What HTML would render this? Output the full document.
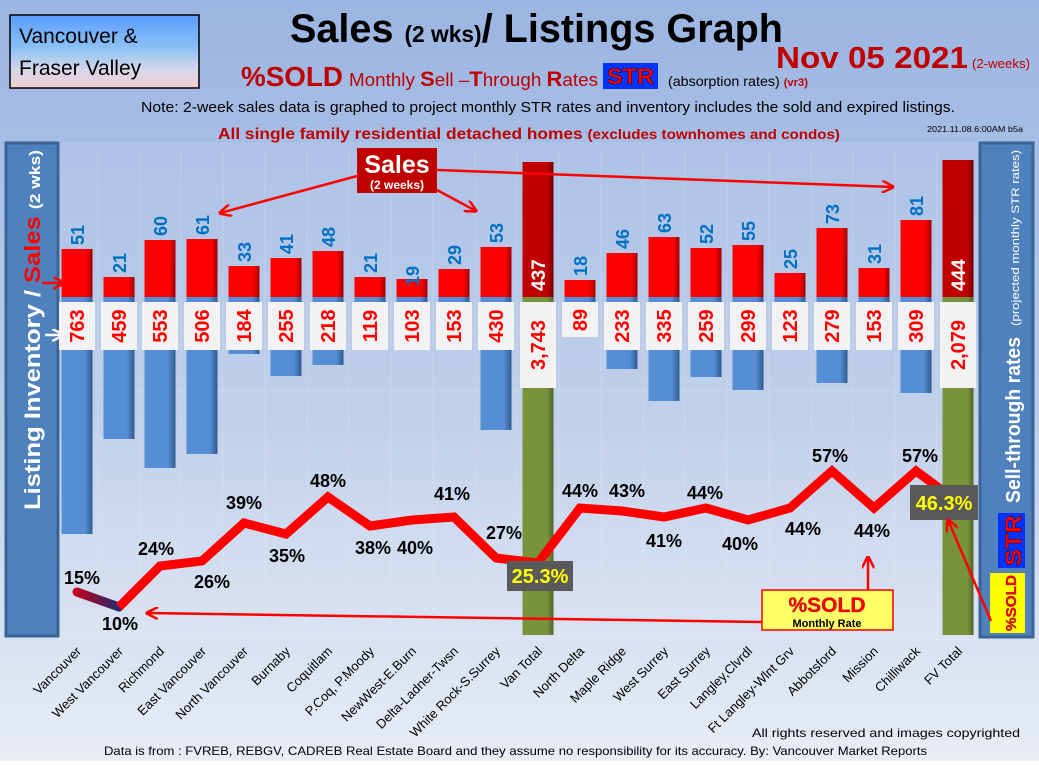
<!DOCTYPE html>
<html><head><meta charset="utf-8"><style>
html,body{margin:0;padding:0;}
body{width:1039px;height:761px;overflow:hidden;font-family:"Liberation Sans",sans-serif;}
</style></head><body>
<svg width="1039" height="761" xmlns="http://www.w3.org/2000/svg" font-family="Liberation Sans, sans-serif">
<defs>
<linearGradient id="bg" x1="0" y1="0" x2="0" y2="1"><stop offset="0" stop-color="#9bb5e2"/><stop offset="0.55" stop-color="#bccde9"/><stop offset="1" stop-color="#e8edf6"/></linearGradient>
<linearGradient id="tl" x1="0" y1="0" x2="0" y2="1"><stop offset="0" stop-color="#5a9cff"/><stop offset="0.45" stop-color="#8cc0f5"/><stop offset="0.75" stop-color="#d4d8ea"/><stop offset="1" stop-color="#f4cdd3"/></linearGradient>
<linearGradient id="rb" x1="0" y1="0" x2="1" y2="0"><stop offset="0" stop-color="#ff0000"/><stop offset="0.8" stop-color="#ff0000"/><stop offset="1" stop-color="#a00000"/></linearGradient>
<linearGradient id="db" x1="0" y1="0" x2="1" y2="0"><stop offset="0" stop-color="#c00000"/><stop offset="0.8" stop-color="#c00000"/><stop offset="1" stop-color="#700000"/></linearGradient>
<linearGradient id="bb" x1="0" y1="0" x2="1" y2="0"><stop offset="0" stop-color="#558ed5"/><stop offset="0.75" stop-color="#558ed5"/><stop offset="1" stop-color="#2f5a90"/></linearGradient>
<linearGradient id="gb" x1="0" y1="0" x2="1" y2="0"><stop offset="0" stop-color="#77933c"/><stop offset="0.8" stop-color="#77933c"/><stop offset="1" stop-color="#4f6228"/></linearGradient>
<linearGradient id="ln" x1="77" y1="0" x2="160" y2="0" gradientUnits="userSpaceOnUse"><stop offset="0" stop-color="#c00020"/><stop offset="0.5" stop-color="#1f2a6e"/><stop offset="1" stop-color="#ff0000"/></linearGradient>
<marker id="ar" viewBox="0 0 10 10" refX="9" refY="5" markerWidth="5" markerHeight="5" orient="auto"><path d="M0,0 L10,5 L0,10" fill="none" stroke="#ff0000" stroke-width="2"/></marker>
<marker id="aw" viewBox="0 0 10 10" refX="9" refY="5" markerWidth="5" markerHeight="5" orient="auto"><path d="M0,0 L10,5 L0,10" fill="none" stroke="#ffffff" stroke-width="2"/></marker>
</defs>
<rect width="1039" height="761" fill="url(#bg)"/>
<rect x="58" y="142" width="922" height="498" fill="#ffffff" opacity="0.08"/>
<g stroke="#ffffff" stroke-opacity="0.15" stroke-width="1">
<line x1="98" y1="150" x2="98" y2="640"/><line x1="140" y1="150" x2="140" y2="640"/><line x1="181" y1="150" x2="181" y2="640"/><line x1="223" y1="150" x2="223" y2="640"/><line x1="265" y1="150" x2="265" y2="640"/><line x1="307" y1="150" x2="307" y2="640"/><line x1="349" y1="150" x2="349" y2="640"/><line x1="391" y1="150" x2="391" y2="640"/><line x1="433" y1="150" x2="433" y2="640"/><line x1="475" y1="150" x2="475" y2="640"/><line x1="517" y1="150" x2="517" y2="640"/><line x1="559" y1="150" x2="559" y2="640"/><line x1="601" y1="150" x2="601" y2="640"/><line x1="643" y1="150" x2="643" y2="640"/><line x1="685" y1="150" x2="685" y2="640"/><line x1="727" y1="150" x2="727" y2="640"/><line x1="769" y1="150" x2="769" y2="640"/><line x1="811" y1="150" x2="811" y2="640"/><line x1="853" y1="150" x2="853" y2="640"/><line x1="895" y1="150" x2="895" y2="640"/><line x1="937" y1="150" x2="937" y2="640"/>
<line x1="58" y1="328" x2="978" y2="328"/><line x1="58" y1="390" x2="978" y2="390"/><line x1="58" y1="452" x2="978" y2="452"/><line x1="58" y1="515" x2="978" y2="515"/><line x1="58" y1="577" x2="978" y2="577"/><line x1="58" y1="640" x2="978" y2="640"/>
</g>

<!-- header -->
<rect x="10" y="15" width="189" height="73" fill="url(#tl)" stroke="#000" stroke-width="1.5"/>
<text x="19" y="43" font-size="21" fill="#000">Vancouver &amp;</text>
<text x="19" y="75" font-size="21" fill="#000">Fraser Valley</text>
<text x="290" y="42" font-size="40" font-weight="bold" fill="#000" textLength="493" lengthAdjust="spacingAndGlyphs">Sales <tspan font-size="23">(2 wks)</tspan>/ Listings Graph</text>
<text x="241" y="86" font-size="28" font-weight="bold" fill="#c00000" textLength="102" lengthAdjust="spacingAndGlyphs">%SOLD</text>
<text x="349" y="86" font-size="18" fill="#c00000" textLength="249" lengthAdjust="spacingAndGlyphs">Monthly <tspan font-weight="bold" font-size="21">S</tspan>ell –<tspan font-weight="bold" font-size="21">T</tspan>hrough <tspan font-weight="bold" font-size="21">R</tspan>ates</text>
<rect x="603" y="63" width="55" height="26" fill="#0033ff"/>
<text x="607" y="84" font-size="22" font-weight="bold" fill="#ff0000" stroke="#400000" stroke-width="0.6" textLength="47" lengthAdjust="spacingAndGlyphs">STR</text>
<text x="668" y="86" font-size="14" fill="#000" textLength="140" lengthAdjust="spacingAndGlyphs">(absorption rates) <tspan fill="#c00000" font-weight="bold" font-size="11">(vr3)</tspan></text>
<text x="776" y="68" font-size="31" font-weight="bold" fill="#c00000" textLength="192" lengthAdjust="spacingAndGlyphs">Nov  05  2021</text>
<text x="972" y="68" font-size="13" fill="#c00000" textLength="58" lengthAdjust="spacingAndGlyphs">(2-weeks)</text>
<text x="141" y="112" font-size="15" fill="#000" textLength="814" lengthAdjust="spacingAndGlyphs">Note: 2-week sales data is graphed to project monthly STR rates and inventory includes the sold and expired listings.</text>
<text x="218" y="139" font-size="16" font-weight="bold" fill="#c00000" textLength="622" lengthAdjust="spacingAndGlyphs">All single family residential detached homes <tspan font-size="14">(excludes townhomes and condos)</tspan></text>
<text x="927" y="132" font-size="8" fill="#000" textLength="96" lengthAdjust="spacingAndGlyphs">2021.11.08.6:00AM b5a</text>

<!-- side panels -->
<rect x="6" y="143" width="52" height="493" fill="#4f81bd" stroke="#3b6494" stroke-width="3"/>
<text transform="translate(40,510) rotate(-90)" font-size="22" font-weight="bold" fill="#ffffff" textLength="360" lengthAdjust="spacingAndGlyphs">Listing Inventory / <tspan fill="#ff0000">Sales</tspan> <tspan font-size="15">(2  wks)</tspan></text>
<line x1="42" y1="283" x2="64" y2="283" stroke="#ff0000" stroke-width="2.5" marker-end="url(#ar)"/>
<line x1="45" y1="335" x2="63" y2="335" stroke="#ffffff" stroke-width="2.5" marker-end="url(#aw)"/>
<rect x="980" y="143" width="53" height="494" fill="#4f81bd" stroke="#3b6494" stroke-width="3"/>
<text transform="translate(1020,503) rotate(-90)" font-size="20" font-weight="bold" fill="#ffffff" textLength="166" lengthAdjust="spacingAndGlyphs">Sell-through rates</text>
<text transform="translate(1019,326) rotate(-90)" font-size="11" fill="#ffffff" textLength="176" lengthAdjust="spacingAndGlyphs">(projected monthly STR rates)</text>
<rect x="998" y="513" width="27" height="55" fill="#0033ff"/>
<text transform="translate(1021,566) rotate(-90)" font-size="22" font-weight="bold" fill="#ff0000" stroke="#400000" stroke-width="0.5" textLength="51" lengthAdjust="spacingAndGlyphs">STR</text>
<rect x="990" y="573" width="35" height="60" fill="#ffff00"/>
<text transform="translate(1016,631) rotate(-90)" font-size="15" font-weight="bold" fill="#ff0000" stroke="#600000" stroke-width="0.3" textLength="56" lengthAdjust="spacingAndGlyphs">%SOLD</text>

<!-- blue/green bars -->
<g fill="url(#bb)">
<rect x="61.5" y="297" width="31" height="237"/><rect x="103.5" y="297" width="31" height="142"/><rect x="144.5" y="297" width="31" height="171"/><rect x="186.5" y="297" width="31" height="157"/><rect x="228.5" y="297" width="31" height="57"/><rect x="270.5" y="297" width="31" height="79"/><rect x="312.5" y="297" width="31" height="68"/><rect x="354.5" y="297" width="31" height="37"/><rect x="396.5" y="297" width="31" height="32"/><rect x="438.5" y="297" width="31" height="47"/><rect x="480.5" y="297" width="31" height="133"/>
<rect x="564.5" y="297" width="31" height="28"/><rect x="606.5" y="297" width="31" height="72"/><rect x="648.5" y="297" width="31" height="104"/><rect x="690.5" y="297" width="31" height="80"/><rect x="732.5" y="297" width="31" height="93"/><rect x="774.5" y="297" width="31" height="38"/><rect x="816.5" y="297" width="31" height="86"/><rect x="858.5" y="297" width="31" height="47"/><rect x="900.5" y="297" width="31" height="96"/>
</g>
<rect x="522.5" y="297" width="31" height="338" fill="url(#gb)"/>
<rect x="942.5" y="297" width="31" height="338" fill="url(#gb)"/>
<!-- red bars -->
<g fill="url(#rb)">
<rect x="61.5" y="249" width="31" height="48"/><rect x="103.5" y="277" width="31" height="20"/><rect x="144.5" y="240" width="31" height="57"/><rect x="186.5" y="239" width="31" height="58"/><rect x="228.5" y="266" width="31" height="31"/><rect x="270.5" y="258" width="31" height="39"/><rect x="312.5" y="251" width="31" height="46"/><rect x="354.5" y="277" width="31" height="20"/><rect x="396.5" y="279" width="31" height="18"/><rect x="438.5" y="269" width="31" height="28"/><rect x="480.5" y="247" width="31" height="50"/>
<rect x="564.5" y="280" width="31" height="17"/><rect x="606.5" y="253" width="31" height="44"/><rect x="648.5" y="237" width="31" height="60"/><rect x="690.5" y="248" width="31" height="49"/><rect x="732.5" y="245" width="31" height="52"/><rect x="774.5" y="273" width="31" height="24"/><rect x="816.5" y="228" width="31" height="69"/><rect x="858.5" y="268" width="31" height="29"/><rect x="900.5" y="220" width="31" height="77"/>
</g>
<rect x="522.5" y="162" width="31" height="135" fill="url(#db)"/>
<rect x="942.5" y="160" width="31" height="137" fill="url(#db)"/>
<g font-size="19" font-weight="bold" fill="#ffffff">
<text transform="translate(545,291) rotate(-90)">437</text>
<text transform="translate(965,291) rotate(-90)">444</text>
</g>
<!-- sales labels -->
<g font-size="18" font-weight="bold" fill="#0070c0">
<text transform="translate(84,245) rotate(-90)">51</text><text transform="translate(126,273) rotate(-90)">21</text><text transform="translate(167,236) rotate(-90)">60</text><text transform="translate(209,235) rotate(-90)">61</text><text transform="translate(251,262) rotate(-90)">33</text><text transform="translate(293,254) rotate(-90)">41</text><text transform="translate(335,247) rotate(-90)">48</text><text transform="translate(377,273) rotate(-90)">21</text><text transform="translate(419,286) rotate(-90)">19</text><text transform="translate(461,265) rotate(-90)">29</text><text transform="translate(503,243) rotate(-90)">53</text>
<text transform="translate(587,276) rotate(-90)">18</text><text transform="translate(629,249) rotate(-90)">46</text><text transform="translate(671,233) rotate(-90)">63</text><text transform="translate(713,244) rotate(-90)">52</text><text transform="translate(755,241) rotate(-90)">55</text><text transform="translate(797,269) rotate(-90)">25</text><text transform="translate(839,224) rotate(-90)">73</text><text transform="translate(881,264) rotate(-90)">31</text><text transform="translate(923,216) rotate(-90)">81</text>
</g>
<!-- inventory boxes -->
<g fill="#f2f2f2">
<rect x="59" y="302" width="36" height="48"/><rect x="101" y="302" width="36" height="48"/><rect x="142" y="302" width="36" height="48"/><rect x="184" y="302" width="36" height="48"/><rect x="226" y="302" width="36" height="48"/><rect x="268" y="302" width="36" height="48"/><rect x="310" y="302" width="36" height="48"/><rect x="352" y="302" width="36" height="48"/><rect x="394" y="302" width="36" height="48"/><rect x="436" y="302" width="36" height="48"/><rect x="478" y="302" width="36" height="48"/><rect x="520" y="302" width="36" height="86"/><rect x="562" y="302" width="36" height="35"/><rect x="604" y="302" width="36" height="48"/><rect x="646" y="302" width="36" height="48"/><rect x="688" y="302" width="36" height="48"/><rect x="730" y="302" width="36" height="48"/><rect x="772" y="302" width="36" height="48"/><rect x="814" y="302" width="36" height="48"/><rect x="856" y="302" width="36" height="48"/><rect x="898" y="302" width="36" height="48"/><rect x="940" y="302" width="36" height="86"/>
</g>
<g font-size="20" font-weight="bold" fill="#ff0000" text-anchor="middle">
<text transform="translate(84,326) rotate(-90)">763</text><text transform="translate(126,326) rotate(-90)">459</text><text transform="translate(167,326) rotate(-90)">553</text><text transform="translate(209,326) rotate(-90)">506</text><text transform="translate(251,326) rotate(-90)">184</text><text transform="translate(293,326) rotate(-90)">255</text><text transform="translate(335,326) rotate(-90)">218</text><text transform="translate(377,326) rotate(-90)">119</text><text transform="translate(419,326) rotate(-90)">103</text><text transform="translate(461,326) rotate(-90)">153</text><text transform="translate(503,326) rotate(-90)">430</text><text transform="translate(545,345) rotate(-90)">3,743</text><text transform="translate(587,320) rotate(-90)">89</text><text transform="translate(629,326) rotate(-90)">233</text><text transform="translate(671,326) rotate(-90)">335</text><text transform="translate(713,326) rotate(-90)">259</text><text transform="translate(755,326) rotate(-90)">299</text><text transform="translate(797,326) rotate(-90)">123</text><text transform="translate(839,326) rotate(-90)">279</text><text transform="translate(881,326) rotate(-90)">153</text><text transform="translate(923,326) rotate(-90)">309</text><text transform="translate(965,345) rotate(-90)">2,079</text>
</g>

<!-- sales callout -->
<rect x="357" y="148" width="80" height="45" fill="#c00000"/>
<text x="397" y="173" font-size="25" font-weight="bold" fill="#fff" text-anchor="middle">Sales</text>
<text x="397" y="189" font-size="12" font-weight="bold" fill="#fff" text-anchor="middle">(2 weeks)</text>
<line x1="357" y1="176" x2="220" y2="213" stroke="#ff0000" stroke-width="2.5" marker-end="url(#ar)"/>
<line x1="437" y1="190" x2="476" y2="211" stroke="#ff0000" stroke-width="2.5" marker-end="url(#ar)"/>
<line x1="437" y1="170" x2="893" y2="187" stroke="#ff0000" stroke-width="2.5" marker-end="url(#ar)"/>

<!-- line -->
<polyline points="77,592 119,607" fill="none" stroke="url(#ln)" stroke-width="9" stroke-linecap="round"/>
<polyline points="119,607 160,566 202,561 244,523 286,534 328,497 370,526 412,520 454,517 496,558 538,563 580,508 622,511 664,517 706,508 748,520 790,508 832,471 874,508 916,471 958,502" fill="none" stroke="#ff0000" stroke-width="9" stroke-linejoin="miter"/>
<g font-size="18" font-weight="bold" fill="#000" text-anchor="middle">
<text x="82" y="584">15%</text><text x="120" y="630">10%</text><text x="156" y="555">24%</text><text x="212" y="588">26%</text><text x="244" y="509">39%</text><text x="287" y="562">35%</text><text x="328" y="487">48%</text><text x="373" y="554">38%</text><text x="415" y="554">40%</text><text x="452" y="500">41%</text><text x="504" y="539">27%</text><text x="580" y="497">44%</text><text x="627" y="497">43%</text><text x="664" y="547">41%</text><text x="705" y="499">44%</text><text x="740" y="550">40%</text><text x="803" y="535">44%</text><text x="830" y="462">57%</text><text x="872" y="537">44%</text><text x="920" y="462">57%</text>
</g>
<rect x="507" y="561" width="66" height="30" fill="#595959"/>
<text x="540" y="583" font-size="20" font-weight="bold" fill="#ffff00" text-anchor="middle">25.3%</text>
<rect x="910" y="485" width="68" height="35" fill="#595959"/>
<text x="944" y="510" font-size="20" font-weight="bold" fill="#ffff00" text-anchor="middle">46.3%</text>

<!-- %SOLD box & arrows -->
<line x1="762" y1="622" x2="147" y2="613" stroke="#ff0000" stroke-width="2.5" marker-end="url(#ar)"/>
<line x1="868" y1="590" x2="868" y2="557" stroke="#ff0000" stroke-width="2.5" marker-end="url(#ar)"/>
<line x1="991" y1="621" x2="948" y2="520" stroke="#ff0000" stroke-width="2.5" marker-end="url(#ar)"/>
<rect x="762" y="590" width="131" height="40" fill="#ffff66" stroke="#ff0000" stroke-width="1.5"/>
<text x="827" y="612" font-size="21" font-weight="bold" fill="#ff0000" text-anchor="middle" stroke="#800000" stroke-width="0.3">%SOLD</text>
<text x="827" y="627" font-size="11" font-weight="bold" fill="#000" text-anchor="middle">Monthly Rate</text>

<!-- x labels -->
<g font-size="13" fill="#000" text-anchor="end">
<text transform="translate(82,652) rotate(-45)">Vancouver</text><text transform="translate(124,652) rotate(-45)">West Vancouver</text><text transform="translate(165,652) rotate(-45)">Richmond</text><text transform="translate(207,652) rotate(-45)">East Vancouver</text><text transform="translate(249,652) rotate(-45)">North Vancouver</text><text transform="translate(291,652) rotate(-45)">Burnaby</text><text transform="translate(333,652) rotate(-45)">Coquitlam</text><text transform="translate(375,652) rotate(-45)">P.Coq, P.Moody</text><text transform="translate(417,652) rotate(-45)">NewWest-E.Burn</text><text transform="translate(459,652) rotate(-45)">Delta-Ladner-Twsn</text><text transform="translate(501,652) rotate(-45)">White Rock-S.Surrey</text><text transform="translate(543,652) rotate(-45)">Van Total</text><text transform="translate(585,652) rotate(-45)">North Delta</text><text transform="translate(627,652) rotate(-45)">Maple Ridge</text><text transform="translate(669,652) rotate(-45)">West Surrey</text><text transform="translate(711,652) rotate(-45)">East Surrey</text><text transform="translate(753,652) rotate(-45)">Langley,Clvrdl</text><text transform="translate(795,652) rotate(-45)">Ft Langley-Wlnt Grv</text><text transform="translate(837,652) rotate(-45)">Abbotsford</text><text transform="translate(879,652) rotate(-45)">Mission</text><text transform="translate(921,652) rotate(-45)">Chilliwack</text><text transform="translate(963,652) rotate(-45)">FV Total</text>
</g>
<text x="752" y="737" font-size="12" fill="#000" textLength="268" lengthAdjust="spacingAndGlyphs">All rights reserved and  images copyrighted</text>
<text x="104" y="755" font-size="12" fill="#000" textLength="823" lengthAdjust="spacingAndGlyphs">Data is from : FVREB, REBGV, CADREB Real Estate Board and they assume no responsibility for its accuracy. By: Vancouver Market Reports</text>
</svg>
</body></html>
